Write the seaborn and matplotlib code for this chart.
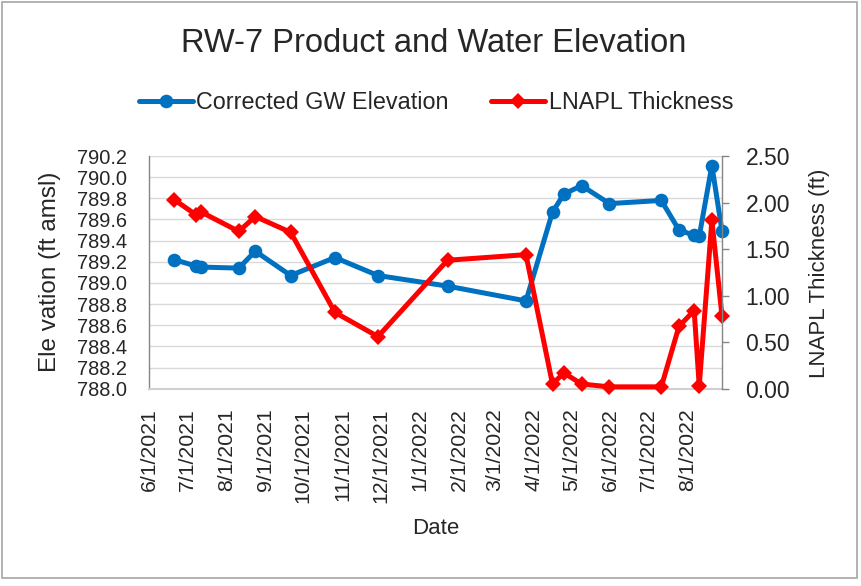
import pandas as pd
import matplotlib
matplotlib.use("Agg")
import matplotlib.pyplot as plt
from matplotlib.patches import Rectangle
from matplotlib.ticker import FormatStrFormatter
import seaborn as sns

# sampling dates and readings
dates = ['2021-06-21', '2021-07-08', '2021-07-12', '2021-08-11', '2021-08-24',
         '2021-09-21', '2021-10-26', '2021-11-29', '2022-01-23', '2022-03-26',
         '2022-04-16', '2022-04-25', '2022-05-09', '2022-05-31', '2022-07-11',
         '2022-07-25', '2022-08-06', '2022-08-10', '2022-08-20', '2022-08-28']
gw_elevation = [789.22, 789.16, 789.15, 789.14, 789.30, 789.07, 789.24, 789.07,
                788.97, 788.83, 789.67, 789.84, 789.92, 789.75, 789.78, 789.50,
                789.45, 789.44, 790.11, 789.49]
lnapl_thickness = [2.03, 1.87, 1.90, 1.69, 1.85, 1.68, 0.82, 0.56, 1.38, 1.44,
                   0.05, 0.17, 0.05, 0.02, 0.02, 0.67, 0.84, 0.03, 1.81, 0.78]

elev_ticks = [788.0, 788.2, 788.4, 788.6, 788.8, 789.0, 789.2, 789.4, 789.6,
              789.8, 790.0, 790.2]
thick_ticks = [0.0, 0.5, 1.0, 1.5, 2.0, 2.5]
month_ticks = pd.date_range('2021-06-01', '2022-08-01', freq='MS')
x_start, x_end = pd.Timestamp('2021-06-01'), pd.Timestamp('2022-08-28')

BLUE = '#0070C0'
RED = '#FF0000'
GREY = '#868686'

sns.set_style('white')
plt.rcParams['font.family'] = ['Liberation Sans', 'DejaVu Sans']
plt.rcParams['text.color'] = '#262626'

df = pd.DataFrame({'Date': pd.to_datetime(dates),
                   'GW': gw_elevation,
                   'LNAPL': lnapl_thickness})

fig = plt.figure(figsize=(8.61, 5.86), dpi=100)
ax = fig.add_axes([149 / 861, 1 - 388.7 / 586, 573 / 861, 232.7 / 586])
ax2 = ax.twinx()

sns.lineplot(data=df, x='Date', y='GW', ax=ax, color=BLUE, linewidth=3.6,
             marker='o', markersize=9.8, markeredgecolor=BLUE, markeredgewidth=0,
             clip_on=False, legend=False)
sns.lineplot(data=df, x='Date', y='LNAPL', ax=ax2, color=RED, linewidth=3.6,
             marker='D', markersize=8.5, markeredgecolor=RED, markeredgewidth=0,
             clip_on=False, legend=False)

# left axis
ax.set_xlim(x_start, x_end)
ax.set_ylim(788.0, 790.2)
ax.set_yticks(elev_ticks)
ax.yaxis.set_major_formatter(FormatStrFormatter('%.1f'))
ax.grid(axis='y', color='#d9d9d9', linewidth=1)
ax.grid(axis='x', visible=False)
ax.set_axisbelow(True)
for side in ['top', 'right']:
    ax.spines[side].set_visible(False)
ax.spines['left'].set_color(GREY)
ax.spines['left'].set_linewidth(1)
ax.spines['bottom'].set_color('#d0d0d0')
ax.spines['bottom'].set_linewidth(1.5)
ax.tick_params(axis='y', length=0, pad=16, labelsize=14.4, labelcolor='#262626')

ax.set_xticks(month_ticks)
ax.set_xticklabels([f'{d.month}/{d.day}/{d.year}' for d in month_ticks])
ax.tick_params(axis='x', length=0, pad=14, labelsize=15.3, rotation=90,
               labelcolor='#262626')
ax.set_xlabel('')
ax.set_ylabel('')

# right axis
ax2.set_ylim(0, 2.5)
ax2.set_yticks(thick_ticks)
ax2.yaxis.set_major_formatter(FormatStrFormatter('%.2f'))
for side in ['top', 'left', 'bottom']:
    ax2.spines[side].set_visible(False)
ax2.spines['right'].set_color(GREY)
ax2.spines['right'].set_linewidth(1)
ax2.tick_params(axis='y', length=5, width=1, color=GREY, pad=12, labelsize=16.5,
                labelcolor='#262626')
ax2.set_ylabel('')
ax2.grid(False)

# titles and axis labels
fig.text(434 / 861, 1 - 52.3 / 586, 'RW-7 Product and Water Elevation',
         ha='center', va='baseline', fontsize=23.5)
fig.text(50.5 / 861, 1 - 272 / 586, 'Ele vation (ft amsl)', rotation=90,
         ha='center', va='center', fontsize=17.5)
fig.text(820 / 861, 1 - 273 / 586, 'LNAPL Thickness (ft)', rotation=90,
         ha='center', va='center', fontsize=16)
fig.text(436 / 861, 1 - 528 / 586, 'Date', ha='center', va='center', fontsize=16)

fig.legend(handles=[ax.lines[0], ax2.lines[0]],
           labels=['Corrected GW Elevation', 'LNAPL Thickness'],
           loc='center', bbox_to_anchor=(436 / 861, 1 - 102.5 / 586), ncol=2,
           frameon=False, fontsize=16.8, handlelength=2.3, handletextpad=0.17,
           columnspacing=1.8)

# chart border
fig.patches.append(Rectangle((1.5 / 861, 1 - 577.5 / 586), 855.5 / 861, 576 / 586,
                             transform=fig.transFigure, fill=False,
                             edgecolor='#a6a6a6', linewidth=1.2))

fig.savefig('out.png', dpi=100)
